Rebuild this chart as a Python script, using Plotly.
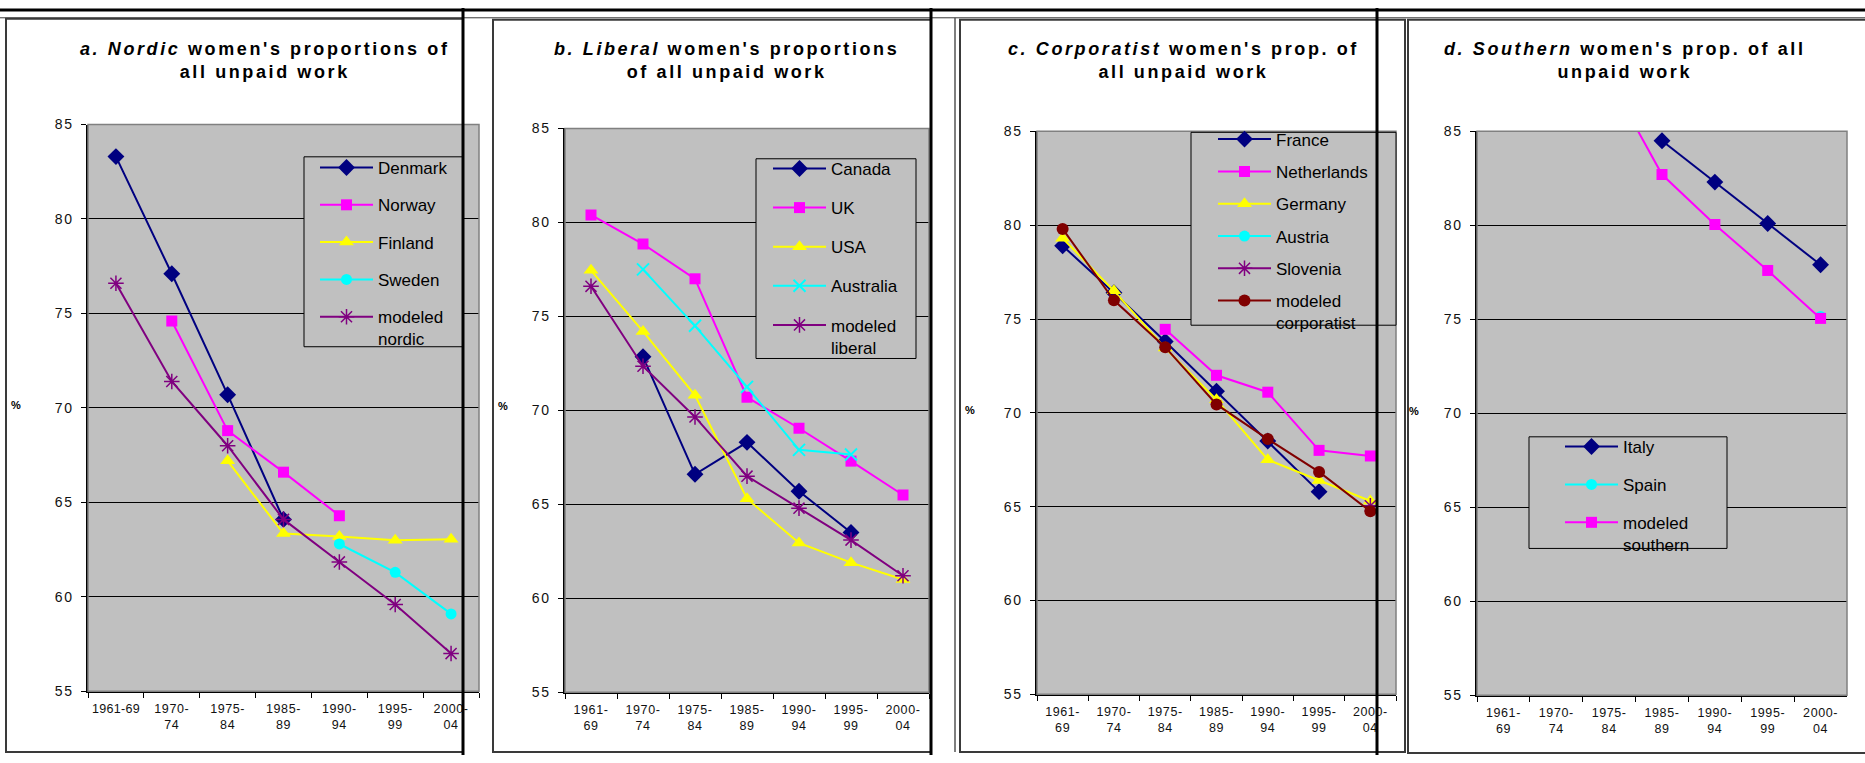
import plotly.graph_objects as go

W, H = 1865, 763

# ---- data -------------------------------------------------------------
periods = ["1961-69", "1970-74", "1975-84", "1985-89", "1990-94", "1995-99", "2000-04"]

# a. Nordic
denmark = [83.3, 77.1, 70.7, 64.1, None, None, None]
norway = [None, 74.6, 68.8, 66.6, 64.3, None, None]
finland = [None, None, 67.2, 63.35, 63.2, 63.0, 63.05]
sweden = [None, None, None, None, 62.8, 61.3, 59.1]
modeled_nordic = [76.6, 71.4, 68.0, 64.1, 61.85, 59.6, 57.0]

# b. Liberal
canada = [None, 72.85, 66.6, 68.3, 65.7, 63.5, None]
uk = [80.4, 78.85, 77.0, 70.7, 69.05, 67.3, 65.5]
usa = [77.45, 74.2, 70.8, 65.3, 62.95, 61.9, 61.0]
australia = [None, 77.5, 74.5, 71.25, 67.9, 67.65, None]
modeled_liberal = [76.6, 72.35, 69.65, 66.5, 64.8, 63.1, 61.2]

# c. Corporatist
france = [78.9, 76.4, 73.8, 71.15, 68.5, 65.8, None]
netherlands = [None, None, 74.45, 72.0, 71.1, 68.0, 67.7]
germany = [79.3, 76.5, 73.45, 70.7, 67.5, 66.4, 65.3]
austria = [None, None, None, None, None, None, None]
slovenia = [None, None, None, None, None, None, 65.05]
modeled_corporatist = [79.8, 76.0, 73.5, 70.45, 68.6, 66.85, 64.75]

# d. Southern
italy = [None, None, None, 84.5, 82.3, 80.1, 77.9]
spain = [None, None, None, None, None, None, 75.15]
modeled_southern = [None, None, 87.8, 82.7, 80.05, 77.6, 75.05]

y_ticks = [55, 60, 65, 70, 75, 80, 85]

# ---- styling ----------------------------------------------------------
FONT = "Arial, Liberation Sans, sans-serif"
NAVY, MAGENTA, YELLOW, CYAN, PURPLE, MAROON = (
    "#000080", "#FF00FF", "#FFFF00", "#00FFFF", "#800080", "#800000")

MARKERS = {
    "diamond": dict(symbol="diamond", size=13, color=NAVY),
    "square": dict(symbol="square", size=11, color=MAGENTA),
    "triangle": dict(symbol="triangle-up", size=13, color=YELLOW),
    "circle": dict(symbol="circle", size=11, color=CYAN),
    "xmark": dict(symbol="x-thin-open", size=12, color=CYAN,
                  line=dict(color=CYAN, width=2)),
    "star": dict(symbol="asterisk-open", size=13, color=PURPLE,
                 line=dict(color=PURPLE, width=1.5)),
    "dot": dict(symbol="circle", size=12, color=MAROON),
}


def fx(p):
    return p / W


def fy(p):
    return 1 - p / H


def spaced(text, ls):
    return f"<span style='letter-spacing:{ls}px'>{text}</span>"


panels = [
    dict(plot=(88, 119, 479, 698),
         title=("<b><i>a. Nordic</i> women's proportions of</b>", "<b>all unpaid work</b>"),
         title_x=265, pct=(16, 405),
         legend=dict(x=315, y=145, gap=12.2), legend_box=(304, 152, 463, 346),
         first_label="1961-69",
         series=[("Denmark", denmark, "diamond", NAVY),
                 ("Norway", norway, "square", MAGENTA),
                 ("Finland", finland, "triangle", YELLOW),
                 ("Sweden", sweden, "circle", CYAN),
                 ("modeled<br>nordic", modeled_nordic, "star", PURPLE)]),
    dict(plot=(565, 123, 929, 699),
         title=("<b><i>b. Liberal</i> women's proportions</b>", "<b>of all unpaid work</b>"),
         title_x=726, pct=(503, 407),
         legend=dict(x=768, y=146, gap=14.0), legend_box=(756, 154, 916, 358),
         first_label="1961-<br>69",
         series=[("Canada", canada, "diamond", NAVY),
                 ("UK", uk, "square", MAGENTA),
                 ("USA", usa, "triangle", YELLOW),
                 ("Australia", australia, "xmark", CYAN),
                 ("modeled<br>liberal", modeled_liberal, "star", PURPLE)]),
    dict(plot=(1037, 126, 1396, 701),
         title=("<b><i>c. Corporatist</i> women's prop. of</b>", "<b>all unpaid work</b>"),
         title_x=1183, pct=(970, 411),
         legend=dict(x=1213, y=116, gap=7.2), legend_box=(1191, 127, 1396, 324),
         first_label="1961-<br>69",
         series=[("France", france, "diamond", NAVY),
                 ("Netherlands", netherlands, "square", MAGENTA),
                 ("Germany", germany, "triangle", YELLOW),
                 ("Austria", austria, "circle", CYAN),
                 ("Slovenia", slovenia, "star", PURPLE),
                 ("modeled<br>corporatist", modeled_corporatist, "dot", MAROON)]),
    dict(plot=(1477, 126, 1847, 702),
         title=("<b><i>d. Southern</i> women's prop. of all</b>", "<b>unpaid work</b>"),
         title_x=1625, pct=(1414, 412),
         legend=dict(x=1560, y=430, gap=12.8), legend_box=(1529, 438, 1727, 552),
         first_label="1961-<br>69",
         series=[("Italy", italy, "diamond", NAVY),
                 ("Spain", spain, "circle", CYAN),
                 ("modeled<br>southern", modeled_southern, "square", MAGENTA)]),
]

fig = go.Figure()
shapes = []
annotations = []
layout = {}


def line(x0, y0, x1, y1, color, width):
    shapes.append(dict(type="line", xref="paper", yref="paper",
                       x0=fx(x0), y0=fy(y0), x1=fx(x1), y1=fy(y1),
                       line=dict(color=color, width=width), layer="above"))


def rect(x0, y0, x1, y1, color, width, fill="rgba(0,0,0,0)", layer="above"):
    shapes.append(dict(type="rect", xref="paper", yref="paper",
                       x0=fx(x0), y0=fy(y1), x1=fx(x1), y1=fy(y0),
                       line=dict(color=color, width=width), fillcolor=fill, layer=layer))


# outer cell borders drawn underneath the chart frames
line(0, 10, W, 10, "#3a3a3a", 1)
line(955, 10, 955, 760, "#555555", 1.5)

y_alias = {str(v): spaced(str(v), 1.5) for v in y_ticks}

for i, p in enumerate(panels):
    n = "" if i == 0 else str(i + 1)
    x0, y0, x1, y1 = p["plot"]
    alias = {}
    for per in periods:
        top, bottom = per.split("-")
        alias[per] = spaced(top + "-", 0.6) + "<br>" + spaced(bottom, 0.6)
    if "<br>" not in p["first_label"]:
        alias["1961-69"] = spaced(p["first_label"], 0.3)

    layout[f"xaxis{n}"] = dict(
        domain=[fx(x0), fx(x1)], anchor=f"y{n}", type="category",
        categoryorder="array", categoryarray=periods, range=[-0.5, 6.5],
        tickson="boundaries", ticks="outside", ticklen=5, tickcolor="black",
        tickangle=0, showgrid=False, showline=True, linecolor="black",
        linewidth=1.5, zeroline=False, labelalias=alias, ticklabelstandoff=5,
        tickfont=dict(family=FONT, size=12.5, color="#111111"), fixedrange=True)
    layout[f"yaxis{n}"] = dict(
        domain=[fy(y1), fy(y0)], anchor=f"x{n}", range=[55, 85],
        tickmode="array", tickvals=y_ticks, ticks="outside", ticklen=5,
        tickcolor="black", showgrid=True, gridcolor="black", gridwidth=1,
        showline=True, linecolor="black", linewidth=1.5, zeroline=False,
        ticklabelstandoff=5, labelalias=y_alias,
        tickfont=dict(family=FONT, size=14, color="#111111"), fixedrange=True)

    leg_name = "legend" if i == 0 else f"legend{i + 1}"
    lg = p["legend"]
    layout[leg_name] = dict(
        x=fx(lg["x"]), y=fy(lg["y"]), xanchor="left", yanchor="top",
        bgcolor="rgba(0,0,0,0)", borderwidth=0, itemwidth=53,
        tracegroupgap=lg["gap"], traceorder="grouped", valign="top",
        font=dict(family=FONT, size=17, color="black"))

    for name, vals, mk, color in p["series"]:
        fig.add_trace(go.Scatter(
            x=periods, y=vals, name=name, mode="lines+markers",
            line=dict(color=color, width=2), marker=MARKERS[mk],
            xaxis=f"x{n}", yaxis=f"y{n}", legend=leg_name,
            legendgroup=f"{leg_name}-{name}", showlegend=True))

    # plot-area border and legend box
    rect(x0, y0, x1, y1, "#808080", 1.5)
    bx0, by0, bx1, by1 = p["legend_box"]
    rect(bx0, by0, bx1, by1, "black", 1, fill="#C0C0C0")

    # chart title
    l1, l2 = p["title"]
    annotations.append(dict(
        xref="paper", yref="paper", x=fx(p["title_x"]), y=fy(53.5),
        xanchor="center", yanchor="middle", showarrow=False, align="center",
        text=spaced(l1, 2.6) + "<br>" + spaced(l2, 2.6),
        font=dict(family=FONT, size=18, color="black")))
    # axis unit
    annotations.append(dict(
        xref="paper", yref="paper", x=fx(p["pct"][0]), y=fy(p["pct"][1]),
        xanchor="center", yanchor="middle", showarrow=False, text="<b>%</b>",
        font=dict(family=FONT, size=11, color="black")))

# chart frames
rect(6, 11, 463, 760, "#3a3a3a", 2)
rect(493, 12, 931, 760, "#3a3a3a", 2)
rect(960, 12, 1405, 760, "#3a3a3a", 2)
rect(1408, 12, 1880, 761, "#3a3a3a", 2)

# heavy page rules on top
line(0, 2, W, 2, "black", 3)
for xv in (463, 931, 1377):
    line(xv, 0, xv, H, "black", 3)

fig.update_layout(
    width=W, height=H, margin=dict(l=0, r=0, t=0, b=0),
    paper_bgcolor="white", plot_bgcolor="#C0C0C0",
    shapes=shapes, annotations=annotations, showlegend=True,
    font=dict(family=FONT, color="black"), **layout)

fig.write_html("out.html")
